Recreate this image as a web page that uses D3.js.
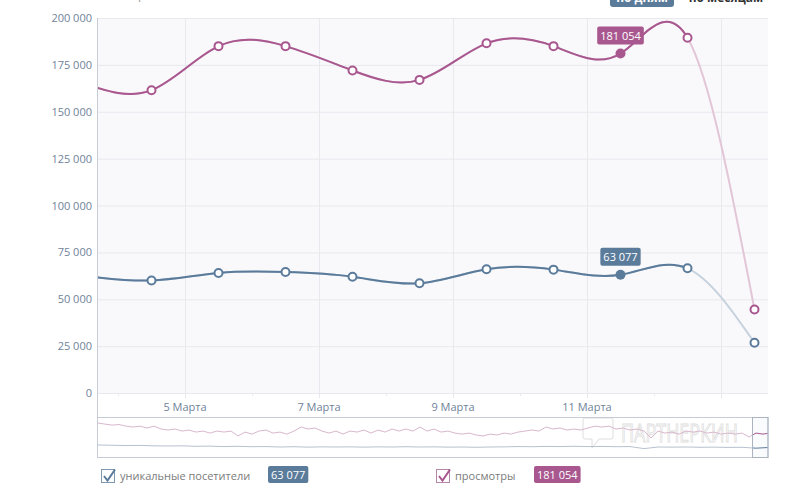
<!DOCTYPE html>
<html>
<head>
<meta charset="utf-8">
<script src="https://cdn.jsdelivr.net/npm/d3@7"></script>
<style>
  body { margin: 0; background: #fff; }
  svg { display: block; font-family: "Open Sans", sans-serif; }
</style>
</head>
<body>
<svg id="chart" width="790" height="499"></svg>
<script>
// daily points (noon of each day)
const days = ["2019-03-03", "2019-03-04", "2019-03-05", "2019-03-06", "2019-03-07", "2019-03-08",
  "2019-03-09", "2019-03-10", "2019-03-11", "2019-03-12", "2019-03-13"];
const visitors = [62500, 60000, 64000, 64500, 62000, 58500, 66000, 65800, 63077, 66500, 26800];
const views = [165000, 161500, 185000, 185000, 172000, 167000, 186500, 185000, 181054, 189500, 44500];
const hoverIndex = 8;

const yTicks = [0, 25000, 50000, 75000, 100000, 125000, 150000, 175000, 200000];
const tickDays = ["2019-03-05", "2019-03-07", "2019-03-09", "2019-03-11", "2019-03-13"];
const tickLabels = ["5 Марта", "7 Марта", "9 Марта", "11 Марта", ""];
const minorDays = ["2019-03-04", "2019-03-06", "2019-03-08", "2019-03-10", "2019-03-12"];

// navigator history
const navViews = [228000, 221000, 214000, 218000, 207000, 201000, 207000, 194000, 207000, 187000,
  180000, 187000, 173000, 180000, 166000, 173000, 159000, 173000, 166000, 173000,
  139000, 166000, 152000, 173000, 180000, 159000, 166000, 152000, 173000, 201000,
  187000, 194000, 173000, 159000, 173000, 152000, 173000, 166000, 180000, 159000,
  180000, 166000, 187000, 173000, 187000, 173000, 201000, 173000, 187000, 166000,
  173000, 159000, 152000, 159000, 146000, 139000, 152000, 146000, 159000, 152000,
  166000, 173000, 180000, 173000, 201000, 187000, 194000, 180000, 187000, 180000,
  194000, 207000, 201000, 207000, 187000, 194000, 180000, 187000, 173000, 125000,
  173000, 159000, 166000, 152000, 173000, 166000, 173000, 159000, 166000, 152000,
  159000, 152000, 159000, 132000, 159000, 152000, 159000];
const navVisitors = [77000, 75000, 73000, 74000, 71000, 70000, 71000, 68000, 69000, 66000,
  68000, 65000, 66000, 63000, 65000, 62000, 64000, 63000, 64000, 62000,
  64000, 63000, 65000, 63000, 64000, 62000, 63000, 61000, 63000, 64000,
  66000, 65000, 67000, 66000, 68000, 66000, 67000, 65000, 66000, 52000,
  63000, 62000, 63000, 61000, 62000, 60000, 61000, 55000, 60000];

const C = {
  blue: "#5b7b9b", blueLight: "#c6d2de", purple: "#a8578f", purpleLight: "#e2c6d8",
  grid: "#e8e8ef", axis: "#c5ccd8", label: "#6f8399", bg: "#f9f9fb"
};

const ru = d3.formatLocale({ decimal: ",", thousands: " ", grouping: [3], currency: ["", ""] });
const fmt = ru.format(",d");
const parseDay = d3.timeParse("%Y-%m-%d");
const noon = (s) => d3.timeHour.offset(parseDay(s), 12);

const L = 98, R = 768, T = 18, B = 393;
const x = d3.scaleTime()
  .domain([d3.timeMinute.offset(parseDay("2019-03-03"), 16 * 60 + 50),
           d3.timeMinute.offset(parseDay("2019-03-13"), 16 * 60 + 50)])
  .range([L, R]);
const y = d3.scaleLinear().domain([0, 200000]).range([B, T]);

const svg = d3.select("#chart");
const defs = svg.append("defs");
const clip = (id, x0, x1, y0, y1) =>
  defs.append("clipPath").attr("id", id).append("rect")
    .attr("x", x0).attr("y", y0).attr("width", x1 - x0).attr("height", y1 - y0);

// top buttons (cut by the frame)
svg.append("rect").attr("x", 610).attr("y", -20).attr("width", 64).attr("height", 27)
  .attr("rx", 3).attr("fill", C.blue);
svg.append("text").attr("x", 642).attr("y", 2).attr("text-anchor", "middle")
  .attr("fill", "#fff").style("font-size", "12px").style("font-weight", 700).text("по дням");
svg.append("text").attr("x", 726).attr("y", 2).attr("text-anchor", "middle")
  .attr("fill", "#333").style("font-size", "12px").style("font-weight", 700).text("по месяцам");
svg.append("text").attr("x", 138).attr("y", -1).attr("fill", "#999")
  .style("font-size", "12px").text("р");

// plot background + grid
svg.append("rect").attr("x", L).attr("y", T).attr("width", R - L).attr("height", B - T).attr("fill", C.bg);

svg.append("g").selectAll("line").data(yTicks).enter().append("line")
  .attr("x1", L).attr("x2", R).attr("y1", (d) => y(d) + 0.5).attr("y2", (d) => y(d) + 0.5)
  .attr("stroke", C.grid);

svg.append("g").selectAll("line").data(tickDays).enter().append("line")
  .attr("x1", (d) => Math.round(x(parseDay(d))) + 0.5).attr("x2", (d) => Math.round(x(parseDay(d))) + 0.5)
  .attr("y1", T).attr("y2", B + 5).attr("stroke", C.grid);

svg.append("g").selectAll("line").data(minorDays).enter().append("line")
  .attr("x1", (d) => Math.round(x(parseDay(d))) + 0.5).attr("x2", (d) => Math.round(x(parseDay(d))) + 0.5)
  .attr("y1", B).attr("y2", B + 3).attr("stroke", C.grid);

// axes
svg.append("line").attr("x1", L - 0.5).attr("x2", L - 0.5).attr("y1", T).attr("y2", 457).attr("stroke", C.axis);

svg.append("g").selectAll("text").data(yTicks).enter().append("text")
  .attr("x", 92).attr("y", (d) => y(d) + 4).attr("text-anchor", "end")
  .attr("fill", C.label).style("font-size", "11px").text((d) => fmt(d));

svg.append("g").selectAll("text").data(tickDays).enter().append("text")
  .attr("x", (d) => x(parseDay(d))).attr("y", 411).attr("text-anchor", "middle")
  .attr("fill", C.label).style("font-size", "11px").text((d, i) => tickLabels[i]);

// series
const line = d3.line().x((d) => x(d.date)).y((d) => y(d.value)).curve(d3.curveNatural);
const lastFull = x(noon(days[days.length - 2]));
clip("plotClip", L, R, 0, B + 2);
clip("fullClip", L, lastFull, 0, B + 2);

const series = [
  { name: "visitors", values: visitors, color: C.blue, light: C.blueLight },
  { name: "views", values: views, color: C.purple, light: C.purpleLight }
];

series.forEach((s) => {
  const pts = s.values.map((v, i) => ({ date: noon(days[i]), value: v }));
  svg.append("path").attr("d", line(pts)).attr("fill", "none").attr("stroke", s.light)
    .attr("stroke-width", 2).attr("clip-path", "url(#plotClip)");
  svg.append("path").attr("d", line(pts)).attr("fill", "none").attr("stroke", s.color)
    .attr("stroke-width", 2).attr("clip-path", "url(#fullClip)");

  svg.append("g").selectAll("circle")
    .data(pts.filter((d, i) => i !== hoverIndex && x(d.date) >= L))
    .enter().append("circle")
    .attr("cx", (d) => x(d.date)).attr("cy", (d) => y(d.value)).attr("r", 4)
    .attr("fill", "#fff").attr("stroke", s.color).attr("stroke-width", 2);

  const h = pts[hoverIndex];
  svg.append("circle").attr("cx", x(h.date)).attr("cy", y(h.value)).attr("r", 5).attr("fill", s.color);

  // tooltip label
  const g = svg.append("g").attr("transform", `translate(${x(h.date)},${y(h.value) - 9})`);
  const rect = g.append("rect").attr("fill", s.color).attr("rx", 2);
  const t = g.append("text").attr("x", 0).attr("y", -5).attr("text-anchor", "middle")
    .attr("fill", "#fff").style("font-size", "11px").text(fmt(h.value));
  const w = t.node().getComputedTextLength() + 6;
  rect.attr("x", -w / 2).attr("y", -18).attr("width", w).attr("height", 18);
});

// navigator
const NT = 417, NB = 457;
const ny = d3.scaleLinear().domain([-6000, 270000]).range([NB, NT]);
const selX = 752;
clip("navOut", L, selX, NT, NB);
clip("navIn", selX, R, NT, NB);

// watermark (behind the navigator lines)
const wm = svg.append("g").attr("fill", "none").attr("stroke", "#dedede").attr("stroke-width", 1);
wm.append("path").attr("d", "M585,418 h26 a2,2 0 0 1 2,2 v17 a2,2 0 0 1 -2,2 h-12 l-7,9 v-9 h-7 a2,2 0 0 1 -2,-2 v-17 a2,2 0 0 1 2,-2 z");
wm.append("text").attr("x", 621).attr("y", 442).style("font-size", "25px")
  .attr("textLength", 117).attr("lengthAdjust", "spacingAndGlyphs").text("ПАРТНЕРКИН");

[{ data: navViews, color: C.purple, light: "#d9b8cc" },
 { data: navVisitors, color: C.blue, light: "#b6c2cf" }].forEach((s) => {
  const nx = d3.scaleLinear().domain([0, s.data.length - 1]).range([L, R + 2]);
  const nl = d3.line().x((d, i) => nx(i)).y((d) => ny(d));
  svg.append("path").attr("d", nl(s.data)).attr("fill", "none").attr("stroke", s.light)
    .attr("stroke-width", 1).attr("clip-path", "url(#navOut)");
  svg.append("path").attr("d", nl(s.data)).attr("fill", "none").attr("stroke", s.color)
    .attr("stroke-width", 1).attr("clip-path", "url(#navIn)");
});

svg.append("rect").attr("x", L - 0.5).attr("y", NT + 0.5).attr("width", R - L + 0.5).attr("height", NB - NT)
  .attr("fill", "none").attr("stroke", C.axis);
svg.append("rect").attr("x", selX + 0.5).attr("y", NT + 0.5).attr("width", R - selX - 0.5).attr("height", NB - NT)
  .attr("fill", "rgba(102,133,194,0.03)").attr("stroke", "#aab3bf");

// legend
const legend = [
  { label: "уникальные посетители", value: visitors[hoverIndex], color: C.blue, box: "#7f98b0", x: 101, badgeX: 268 },
  { label: "просмотры", value: views[hoverIndex], color: C.purple, box: "#b785a8", x: 436, badgeX: 534 }
];
legend.forEach((d) => {
  const g = svg.append("g");
  g.append("rect").attr("x", d.x + 0.5).attr("y", 469.5).attr("width", 13).attr("height", 13)
    .attr("fill", "#fff").attr("stroke", d.box).attr("stroke-width", 1);
  g.append("path").attr("d", `M${d.x + 3},${476} l3.5,4.5 l7.5,-11`).attr("fill", "none")
    .attr("stroke", d.color).attr("stroke-width", 2);
  g.append("text").attr("x", d.x + 19).attr("y", 480).attr("fill", "#7b7b7b")
    .style("font-size", "11px").text(d.label);
  const r = g.append("rect").attr("x", d.badgeX).attr("y", 466).attr("height", 17).attr("rx", 2).attr("fill", d.color);
  const t = g.append("text").attr("y", 479).attr("fill", "#fff").style("font-size", "11px").text(fmt(d.value));
  const w = t.node().getComputedTextLength() + 6;
  r.attr("width", w);
  t.attr("x", d.badgeX + 3);
});
</script>
</body>
</html>
